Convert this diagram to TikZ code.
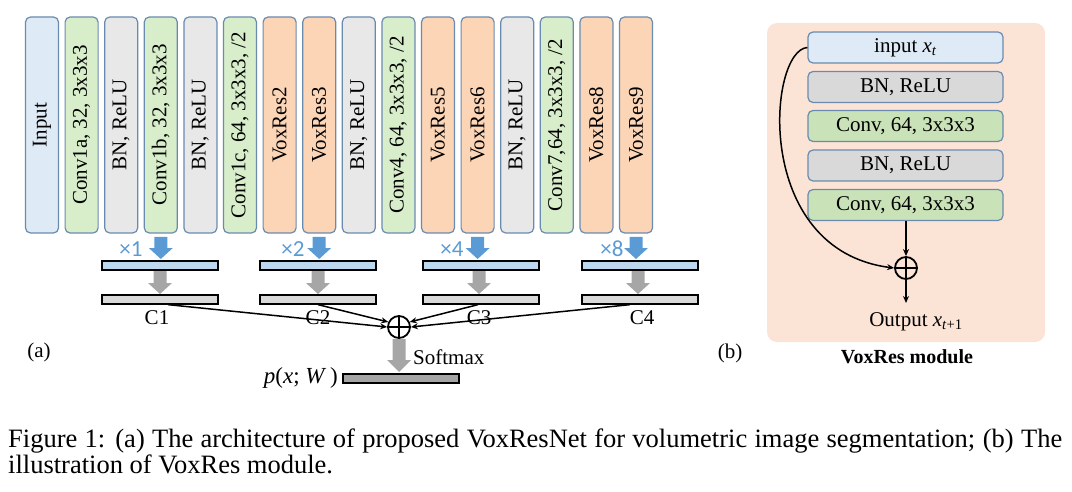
\documentclass[tikz,border=0pt]{standalone}
\usepackage{fontspec}
\setmainfont{Liberation Serif}
\newfontfamily\calfont{Carlito}
\usetikzlibrary{arrows.meta,calc}
\definecolor{boxedge}{HTML}{6A8BB0}
\definecolor{cinput}{HTML}{DEEAF6}
\definecolor{cconv}{HTML}{D8EECA}
\definecolor{cbn}{HTML}{E8E8E8}
\definecolor{cvox}{HTML}{FCD5B6}
\definecolor{rconv}{HTML}{C9E2B8}
\definecolor{rbn}{HTML}{D9D9D9}
\definecolor{panelbg}{HTML}{FBE4D6}
\definecolor{arrblue}{HTML}{5B9BD5}
\definecolor{arrgray}{HTML}{A6A6A6}
\definecolor{barblue}{HTML}{BDD7EE}
\definecolor{bargray}{HTML}{D9D9D9}
\definecolor{bardark}{HTML}{A5A5A5}
\newcommand\fsz{\fontsize{21}{24}\selectfont}
\newcommand\ivar[1]{\textit{#1}}
\newcommand\blockarrow[5]{%
  \fill[#5] (#1-6.5,#2) -- (#1+6.5,#2) -- (#1+6.5,#4) -- (#1+12,#4) -- (#1,#3) -- (#1-12,#4) -- (#1-6.5,#4) -- cycle;}
\begin{document}
\begin{tikzpicture}[x=1pt,y=-1pt,
  colbox/.style={draw=boxedge, line width=1.2pt, rounded corners=5pt, rotate=90,
    minimum width=216pt, minimum height=33pt, inner sep=0pt, font=\fsz},
  rbox/.style={draw=boxedge, line width=1.2pt, rounded corners=5pt,
    minimum width=195pt, minimum height=31pt, inner sep=0pt, font=\fsz},
  bar/.style={draw=black, line width=1.3pt, minimum width=116pt, minimum height=9pt, inner sep=0pt},
  lbl/.style={font=\fsz, inner sep=0pt},
  mult/.style={font=\calfont\fontsize{23}{26}\selectfont, text=arrblue, inner sep=0pt},
  conn/.style={line width=1.5pt, -{Stealth[length=7pt,width=6pt]}},
  plusc/.style={circle, draw=black, line width=1.8pt, minimum size=22pt, inner sep=0pt}
]
\useasboundingbox (0,0) rectangle (1072,492);
% columns
\node[colbox, fill=cinput] (c0) at (42,125) {Input};
\node[colbox, fill=cconv] (c1) at (81.6,125) {Conv1a, 32, 3x3x3};
\node[colbox, fill=cbn] (c2) at (121.2,125) {BN, ReLU};
\node[colbox, fill=cconv] (c3) at (160.8,125) {Conv1b, 32, 3x3x3};
\node[colbox, fill=cbn] (c4) at (200.4,125) {BN, ReLU};
\node[colbox, fill=cconv] (c5) at (240,125) {Conv1c, 64, 3x3x3, /2};
\node[colbox, fill=cvox] (c6) at (279.6,125) {VoxRes2};
\node[colbox, fill=cvox] (c7) at (319.2,125) {VoxRes3};
\node[colbox, fill=cbn] (c8) at (358.8,125) {BN, ReLU};
\node[colbox, fill=cconv] (c9) at (398.4,125) {Conv4, 64, 3x3x3, /2};
\node[colbox, fill=cvox] (c10) at (438,125) {VoxRes5};
\node[colbox, fill=cvox] (c11) at (477.6,125) {VoxRes6};
\node[colbox, fill=cbn] (c12) at (517.2,125) {BN, ReLU};
\node[colbox, fill=cconv] (c13) at (556.8,125) {Conv7,64, 3x3x3, /2};
\node[colbox, fill=cvox] (c14) at (596.4,125) {VoxRes8};
\node[colbox, fill=cvox] (c15) at (636,125) {VoxRes9};
% blue arrows and multipliers
\blockarrow{160.8}{237}{259}{248}{arrblue}
\blockarrow{319.2}{237}{259}{248}{arrblue}
\blockarrow{477.6}{237}{259}{248}{arrblue}
\blockarrow{636}{237}{259}{248}{arrblue}
\node[mult] (m1) at (131,249) {×1};
\node[mult] (m2) at (293,249) {×2};
\node[mult] (m3) at (452,249) {×4};
\node[mult] (m4) at (612,249) {×8};
% bars
\node[bar, fill=barblue] (b1) at (160,265.5) {};
\node[bar, fill=barblue] (b2) at (318,265.5) {};
\node[bar, fill=barblue] (b3) at (481,265.5) {};
\node[bar, fill=barblue] (b4) at (640,265.5) {};
\blockarrow{160}{271}{294}{283}{arrgray}
\blockarrow{318}{271}{294}{283}{arrgray}
\blockarrow{479}{271}{294}{283}{arrgray}
\blockarrow{638}{271}{294}{283}{arrgray}
\node[bar, fill=bargray] (g1) at (160,299.5) {};
\node[bar, fill=bargray] (g2) at (318,299.5) {};
\node[bar, fill=bargray] (g3) at (481,299.5) {};
\node[bar, fill=bargray] (g4) at (640,299.5) {};
\node[lbl] (l1) at (157,318) {C1};
\node[lbl] (l2) at (318,318) {C2};
\node[lbl] (l3) at (479,318) {C3};
\node[lbl] (l4) at (642,318) {C4};
% sum
\node[plusc] (plus) at (399,327) {};
\draw[line width=1.8pt] (plus.north) -- (plus.south) (plus.west) -- (plus.east);
\draw[conn] ($(g1.south)+(8,0)$) -- (plus.west);
\draw[conn] (g2.south) -- (plus.155);
\draw[conn] ($(g3.south)+(-3,0)$) -- (plus.25);
\draw[conn] ($(g4.south)+(-10,0)$) -- (plus.east);
\blockarrow{399}{339}{372}{360}{arrgray}
\node[lbl, anchor=west] (soft) at (413,357) {Softmax};
\node[bar, fill=bardark] (out) at (401,378.5) {};
\node[lbl, anchor=east, font=\fontsize{23}{26}\selectfont] (pxw) at (338,378) {\ivar{p}(\ivar{x}; \ivar{W}\,)};
\node[lbl] (la) at (39,352) {(a)};
% right panel
\node[fill=panelbg, rounded corners=10pt, minimum width=278pt, minimum height=319pt, inner sep=0pt] (panel) at (906,182.5) {};
\node[rbox, fill=cinput] (r0) at (905.5,47.5) {input \ivar{x}\textsubscript{\ivar{t}}};
\node[rbox, fill=rbn] (r1) at (905.5,87) {BN, ReLU};
\node[rbox, fill=rconv] (r2) at (905.5,126) {Conv, 64, 3x3x3};
\node[rbox, fill=rbn] (r3) at (905.5,165.5) {BN, ReLU};
\node[rbox, fill=rconv] (r4) at (905.5,205) {Conv, 64, 3x3x3};
\node[plusc] (plus2) at (906,268) {};
\draw[line width=1.8pt] (plus2.north) -- (plus2.south) (plus2.west) -- (plus2.east);
\draw[conn] (r4.south -| plus2) -- (plus2.north);
\coordinate (otip) at (906,303);
\draw[conn] (plus2.south) -- (otip);
\draw[conn] (r0.west) .. controls (768,50) and (752,250) .. (plus2.west);
\node[lbl] (outl) at (916,322) {Output \ivar{x}\textsubscript{\ivar{t}+1}};
\node[lbl] (lb) at (730,353) {(b)};
\node[lbl, font=\bfseries\fontsize{20}{24}\selectfont] (vm) at (907,357) {VoxRes module};
% caption
\node[anchor=base west, inner sep=0pt, font=\fontsize{26.5}{28}\selectfont] (cap1) at (8,447) {\makebox[1054pt][s]{Figure 1: (a) The architecture of proposed VoxResNet for volumetric image segmentation; (b) The}};
\node[anchor=base west, inner sep=0pt, font=\fontsize{26.5}{28}\selectfont] (cap2) at (8,473) {illustration of VoxRes module.};
\end{tikzpicture}
\end{document}
